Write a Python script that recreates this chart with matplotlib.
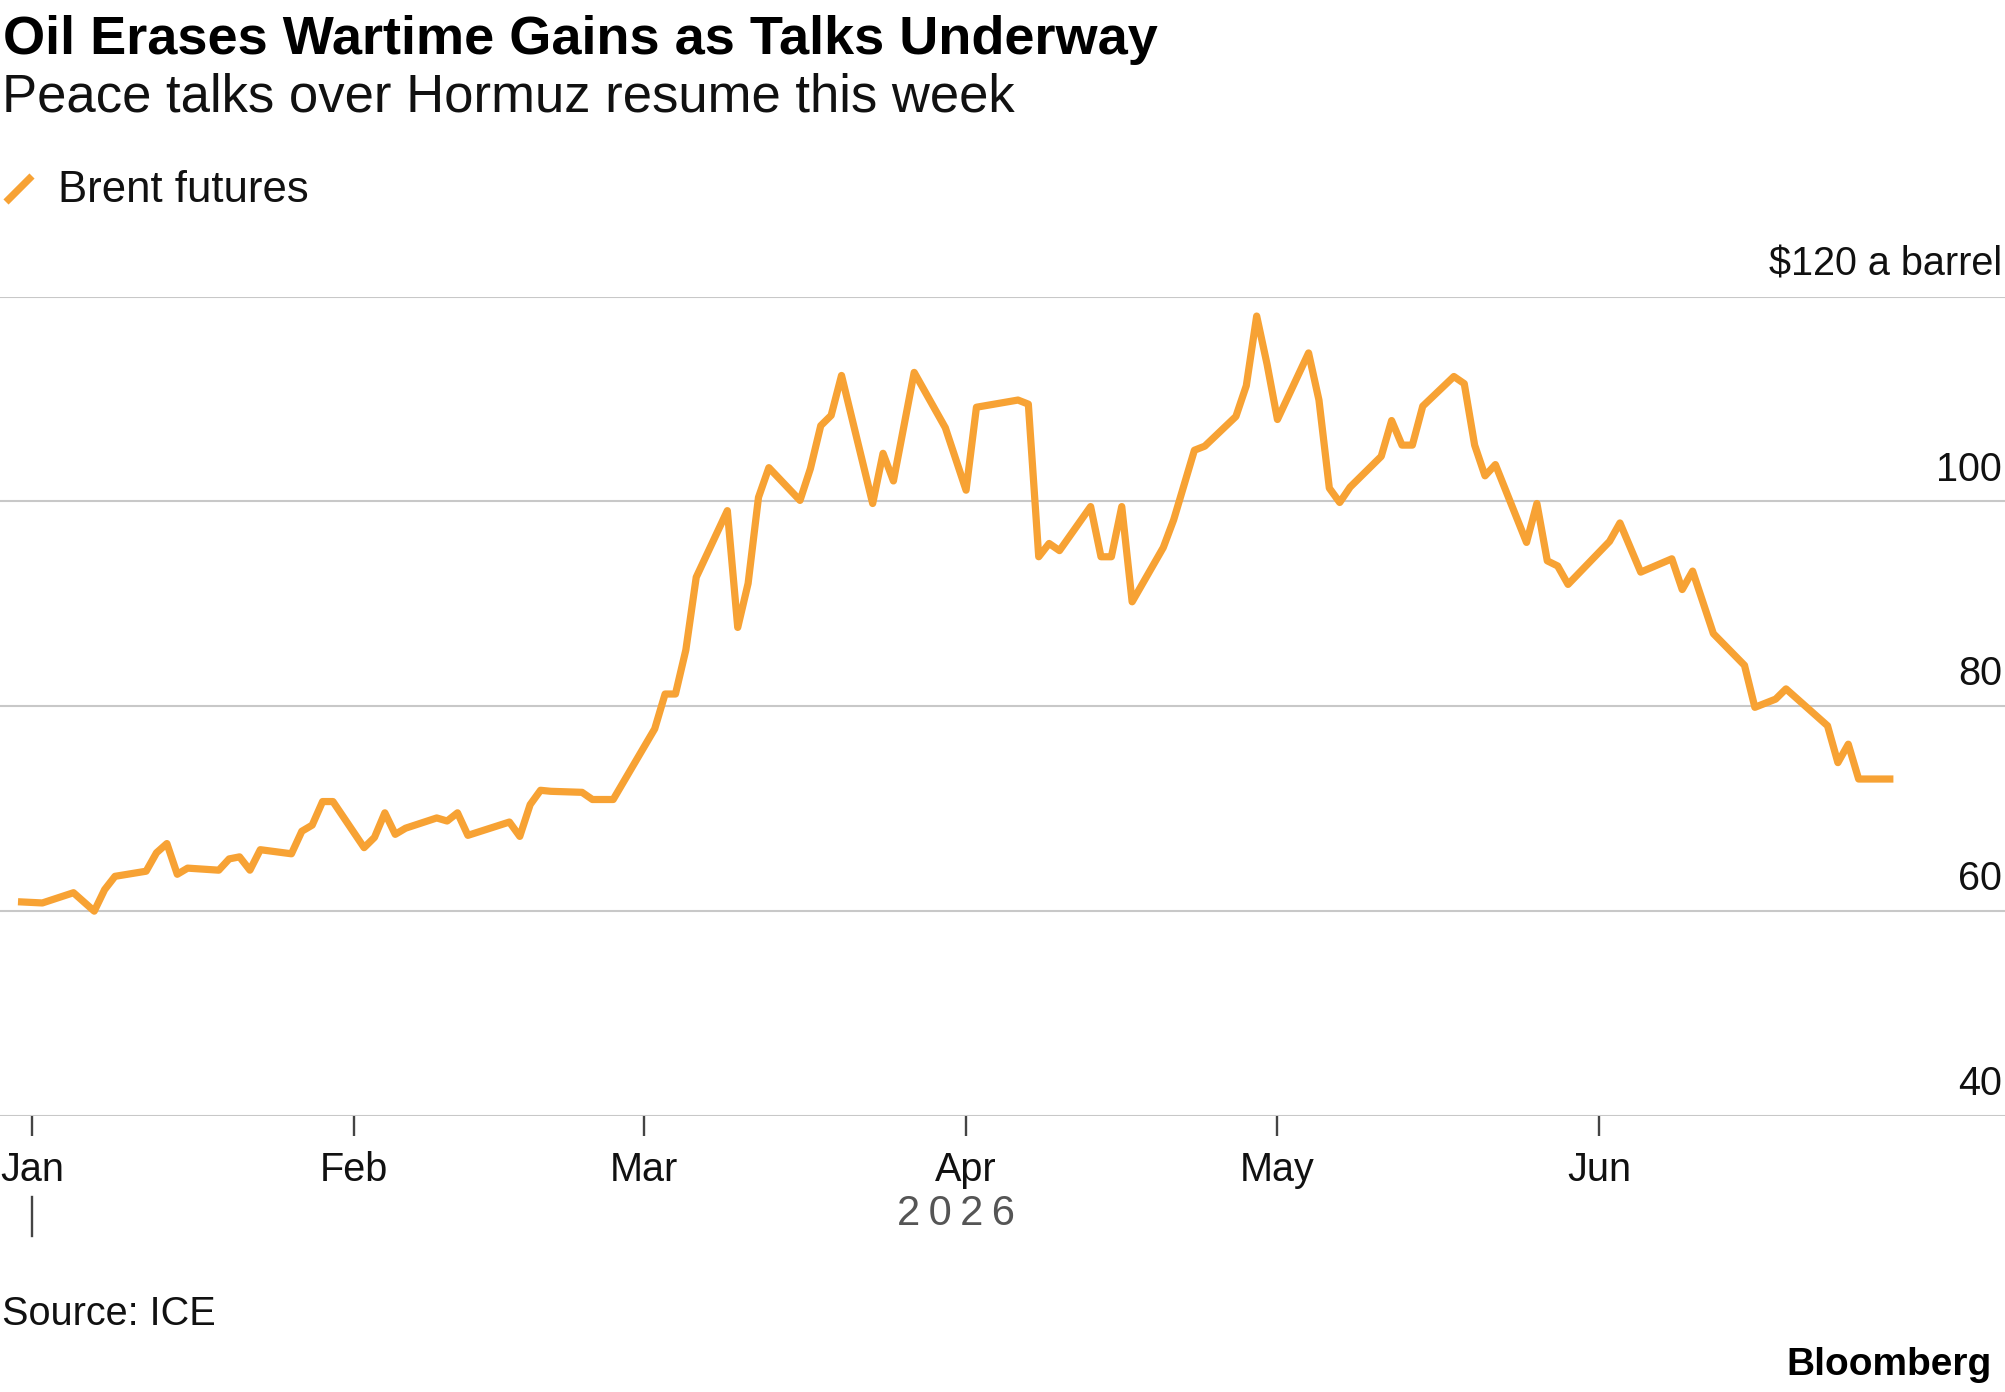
import pandas as pd
import matplotlib
matplotlib.use("Agg")
import matplotlib.pyplot as plt
import matplotlib.dates as mdates
from matplotlib.lines import Line2D

plt.rcParams['font.family'] = ['Liberation Sans', 'DejaVu Sans']

# Brent futures, $ a barrel
dates = [
    "2025-12-31", "2026-01-02", "2026-01-05", "2026-01-07", "2026-01-08", "2026-01-09",
    "2026-01-12", "2026-01-13", "2026-01-14", "2026-01-15", "2026-01-16",
    "2026-01-19", "2026-01-20", "2026-01-21", "2026-01-22", "2026-01-23",
    "2026-01-26", "2026-01-27", "2026-01-28", "2026-01-29", "2026-01-30",
    "2026-02-02", "2026-02-03", "2026-02-04", "2026-02-05", "2026-02-06",
    "2026-02-09", "2026-02-10", "2026-02-11", "2026-02-12",
    "2026-02-16", "2026-02-17", "2026-02-18", "2026-02-19", "2026-02-20",
    "2026-02-23", "2026-02-24", "2026-02-26",
    "2026-03-02", "2026-03-03", "2026-03-04", "2026-03-05", "2026-03-06",
    "2026-03-09", "2026-03-10", "2026-03-11", "2026-03-12", "2026-03-13",
    "2026-03-16", "2026-03-17", "2026-03-18", "2026-03-19", "2026-03-20",
    "2026-03-23", "2026-03-24", "2026-03-25", "2026-03-27",
    "2026-03-30", "2026-04-01", "2026-04-02",
    "2026-04-06", "2026-04-07", "2026-04-08", "2026-04-09", "2026-04-10",
    "2026-04-13", "2026-04-14", "2026-04-15", "2026-04-16", "2026-04-17",
    "2026-04-20", "2026-04-21", "2026-04-23", "2026-04-24",
    "2026-04-27", "2026-04-28", "2026-04-29", "2026-04-30", "2026-05-01",
    "2026-05-04", "2026-05-05", "2026-05-06", "2026-05-07", "2026-05-08",
    "2026-05-11", "2026-05-12", "2026-05-13", "2026-05-14", "2026-05-15",
    "2026-05-18", "2026-05-19", "2026-05-20", "2026-05-21", "2026-05-22",
    "2026-05-25", "2026-05-26", "2026-05-27", "2026-05-28", "2026-05-29",
    "2026-06-02", "2026-06-03", "2026-06-05",
    "2026-06-08", "2026-06-09", "2026-06-10", "2026-06-12",
    "2026-06-15", "2026-06-16", "2026-06-18", "2026-06-19",
    "2026-06-23", "2026-06-24", "2026-06-25", "2026-06-26", "2026-06-29",
]
brent = [
    60.9, 60.8, 61.8, 60.0, 62.1, 63.4,
    63.9, 65.7, 66.6, 63.6, 64.2,
    64.0, 65.1, 65.3, 64.0, 66.0,
    65.6, 67.8, 68.4, 70.7, 70.7,
    66.2, 67.2, 69.6, 67.5, 68.1,
    69.1, 68.8, 69.6, 67.4,
    68.7, 67.3, 70.4, 71.8, 71.7,
    71.6, 70.9, 70.9,
    77.8, 81.2, 81.2, 85.5, 92.6,
    99.1, 87.7, 92.0, 100.4, 103.3,
    100.1, 103.2, 107.4, 108.4, 112.3,
    99.8, 104.7, 102.0, 112.6,
    107.2, 101.1, 109.2,
    109.9, 109.5, 94.6, 95.9, 95.2,
    99.5, 94.6, 94.6, 99.5, 90.2,
    95.5, 98.2, 105.0, 105.4,
    108.3, 111.3, 118.1, 113.4, 108.0,
    114.5, 109.9, 101.3, 99.9, 101.4,
    104.4, 107.9, 105.5, 105.5, 109.3,
    112.2, 111.5, 105.5, 102.5, 103.6,
    96.0, 99.8, 94.2, 93.7, 91.9,
    96.1, 97.9, 93.1,
    94.4, 91.4, 93.2, 87.1,
    84.0, 79.9, 80.7, 81.7,
    78.1, 74.5, 76.3, 72.9, 72.9,
]
yticks = [40, 60, 80, 100, 120]
ylabels = ["40", "60", "80", "100", "$120 a barrel"]

ORANGE = "#F7A234"
GRID = "#C8C8C8"
TICK = "#444444"
FS = 28.5

W, H = 2005, 1392
fig = plt.figure(figsize=(W / 100, H / 100), dpi=100)
fy = lambda px: 1 - px / H  # figure fraction from pixel row

ax = fig.add_axes([0, fy(1116), 1, (1116 - 296.6) / H])
x = pd.to_datetime(dates)
ax.plot(x, brent, color=ORANGE, lw=5.2, clip_on=False, zorder=3)

t0 = pd.Timestamp("2026-01-01")
ax.set_xlim(t0 - pd.Timedelta(days=3.08), t0 + pd.Timedelta(days=190.1))
ax.set_ylim(40, 120)

for s in ax.spines.values():
    s.set_visible(False)
ax.set_yticks(yticks)
ax.tick_params(axis="y", length=0, labelleft=False)
ax.grid(axis="y", color=GRID, lw=1.5, zorder=0)

for v, lab in zip(yticks, ylabels):
    ax.annotate(lab, xy=(1, v), xycoords=("axes fraction", "data"),
                xytext=(-2, 15), textcoords="offset points",
                ha="right", va="baseline", fontsize=FS, color="#111111")

ax.xaxis.set_major_locator(mdates.MonthLocator(bymonth=range(1, 7)))
ax.xaxis.set_major_formatter(mdates.DateFormatter("%b"))
ax.tick_params(axis="x", length=14.5, width=1.7, color=TICK, pad=11,
               labelsize=FS, labelcolor="#111111")

# year marker under Jan and the year label
ax.plot([t0, t0], [-0.099, -0.146], transform=ax.get_xaxis_transform(),
        color=TICK, lw=1.7, clip_on=False)
mid = x[0] + (x[-1] - x[0]) / 2
ax.text(mid, -0.119, "2\u20090\u20092\u20096", transform=ax.get_xaxis_transform(),
        ha="center", va="center", fontsize=30, color="#555555")

# header
fig.text(3 / W, fy(54), "Oil Erases Wartime Gains as Talks Underway",
         fontsize=39, fontweight="bold", va="baseline", color="#000000")
fig.text(2 / W, fy(112), "Peace talks over Hormuz resume this week",
         fontsize=37.9, va="baseline", color="#111111")
fig.add_artist(Line2D([6 / W, 32 / W], [fy(202), fy(176)], color=ORANGE,
                      lw=5.2, solid_capstyle="butt"))
fig.text(58 / W, fy(202), "Brent futures", fontsize=31.5, va="baseline",
         color="#111111")

# footer
fig.text(2 / W, fy(1325), "Source: ICE", fontsize=FS, va="baseline",
         color="#111111")
fig.text(1992 / W, fy(1375), "Bloomberg", fontsize=28, fontweight="bold",
         ha="right", va="baseline", color="#000000")

fig.savefig("out.png", dpi=100, facecolor="white")
